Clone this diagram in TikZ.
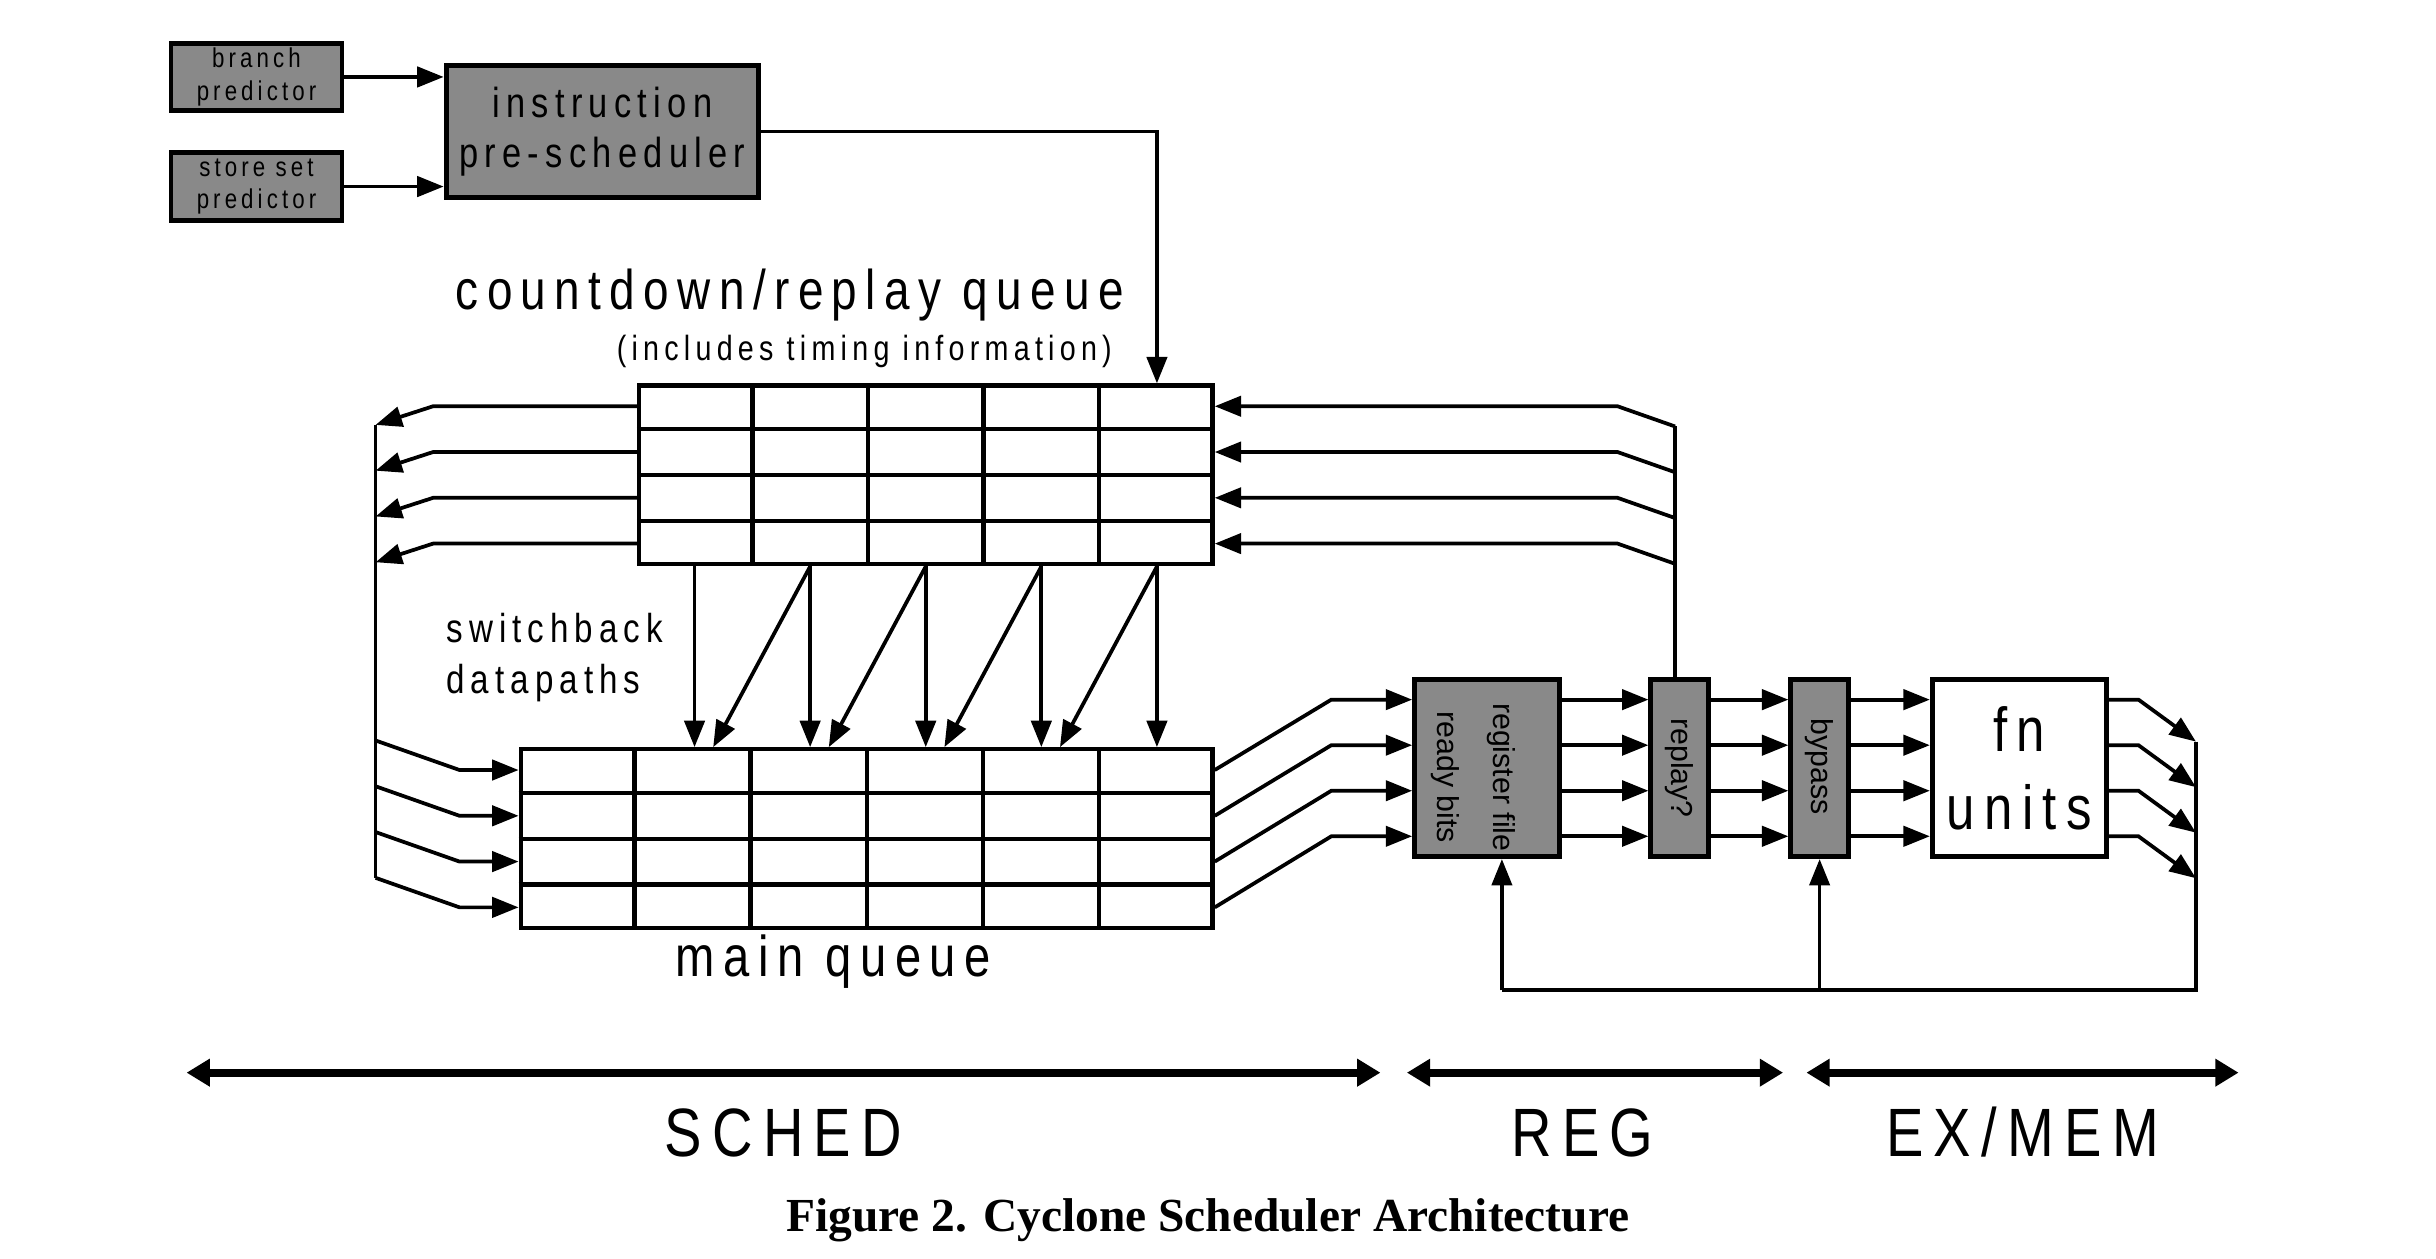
\documentclass[tikz,border=0pt]{standalone}
\usepackage{fontspec}
\setmainfont{Liberation Serif}
\newfontfamily\spaced[FakeStretch=0.82,LetterSpace=15]{Liberation Sans}
\newfontfamily\plain{Liberation Sans}
\definecolor{BlockFill}{RGB}{137,137,137}
\usetikzlibrary{calc, arrows.meta}

\begin{document}
\begin{tikzpicture}[x=1pt, y=-1pt,
    block/.style = {draw, line width=3.2pt, fill=BlockFill, inner sep=0pt, align=center},
    queue/.style = {draw, line width=2.8pt, inner sep=0pt},
    grid/.style = {line width=2.8pt},
    wire/.style = {line width=2.4pt},
    vtext/.style = {rotate=-90, inner sep=0pt, font=\plain\fontsize{19.5}{23}\selectfont},
    axis/.style = {line width=5pt, {Triangle[length=15pt, width=17pt]}-{Triangle[length=15pt, width=17pt]}},
    >={Triangle[length=17pt, width=13pt]}]

\useasboundingbox (0,0) rectangle (1567,809.25);

\node[block, minimum width=110pt, minimum height=43pt, font=\spaced\fontsize{17.5}{21}\selectfont] (BP) at (165,49.5) {branch\\predictor};
\node[block, minimum width=110pt, minimum height=44pt, font=\spaced\fontsize{17.5}{21}\selectfont] (SS) at (165,120) {store set\\predictor};
\node[block, minimum width=201pt, minimum height=85pt, font=\spaced\fontsize{27}{32}\selectfont] (PS) at (387.5,84.5) {instruction\\pre-scheduler};

\node[queue, minimum width=369pt, minimum height=115pt] (CQ) at (595.5,305.5) {};
\node[queue, minimum width=445pt, minimum height=115pt] (MQ) at (557.5,539.5) {};
\foreach \i in {1,...,4}
    \draw[grid] ($(CQ.north west)!{\i/5}!(CQ.north east)$) -- ($(CQ.south west)!{\i/5}!(CQ.south east)$);
\foreach \i in {1,...,5}
    \draw[grid] ($(MQ.north west)!{\i/6}!(MQ.north east)$) -- ($(MQ.south west)!{\i/6}!(MQ.south east)$);
\foreach \j in {1,2,3} {
    \draw[grid] ($(CQ.north west)!{\j/4}!(CQ.south west)$) -- ($(CQ.north east)!{\j/4}!(CQ.south east)$);
    \draw[grid] ($(MQ.north west)!{\j/4}!(MQ.south west)$) -- ($(MQ.north east)!{\j/4}!(MQ.south east)$);
}

\node[block, minimum width=93pt, minimum height=114pt] (RF) at (956.5,494) {};
\node[block, minimum width=37pt, minimum height=114pt] (RP) at (1080.5,494) {};
\node[block, minimum width=37pt, minimum height=114pt] (BY) at (1170.5,494) {};
\node[block, fill=white, minimum width=112pt, minimum height=114pt, font=\spaced\fontsize{40}{50}\selectfont] (FU) at (1299,494) {fn\\units};
\node[vtext] (RFa) at (966,500) {register file};
\node[vtext] (RFb) at (930,500) {ready bits};
\node[vtext] (RPt) at (1080,494) {replay?};
\node[vtext] (BYt) at (1170.5,493) {bypass};

\node[anchor=base, font=\spaced\fontsize{36}{40}\selectfont] (CQa) at (508,199) {countdown/replay queue};
\node[anchor=base, font=\spaced\fontsize{22.5}{26}\selectfont] (CQb) at (556,232) {(includes timing information)};
\node[anchor=base west, inner sep=0pt, font=\spaced\fontsize{26}{30}\selectfont] (SWa) at (287,413) {switchback};
\node[anchor=base west, inner sep=0pt, font=\spaced\fontsize{26}{30}\selectfont] (SWb) at (287,446) {datapaths};
\node[anchor=base, font=\spaced\fontsize{37}{40}\selectfont] (MQa) at (536,628) {main queue};

\foreach \k in {1,...,4} {
    \coordinate (CQW\k) at ($(CQ.north west)!{(\k-0.5)/4}!(CQ.south west)$);
    \coordinate (CQE\k) at ($(CQ.north east)!{(\k-0.5)/4}!(CQ.south east)$);
    \coordinate (MQW\k) at ($(MQ.north west)!{(\k-0.5)/4}!(MQ.south west)$);
    \coordinate (MQE\k) at ($(MQ.north east)!{(\k-0.5)/4}!(MQ.south east)$);
    \coordinate (RFW\k) at ($(RF.north west)!{(\k-0.5)/4}!(RF.south west)$);
    \coordinate (RB\k) at ($(RP.north |- CQE\k)+(-3,13)$);
}
\foreach \c in {1,...,5}
    \coordinate (CQS\c) at ($(CQ.south west)!{(\c-0.5)/5}!(CQ.south east)$);

\draw[wire, ->] (BP.east) -- (BP.east -| PS.west);
\draw[wire, ->] (SS.east) -- (SS.east -| PS.west);
\draw[wire, ->] (PS.east) -| ($(CQ.north west)!0.9!(CQ.north east)$);

\draw[wire] ($(CQW1)+(-168,12)$) -- ($(MQW4)+(-92,-19)$);
\draw[wire] ($(RP.north)+(-3,0)$) -- (RB1);
\foreach \k in {1,...,4} {
    \draw[wire, ->] (CQW\k) -- ++(-131,0) -- ++(-37,12);
    \draw[wire, ->] ($(MQW\k)+(-92,-19)$) -- ++(54,19) -- (MQW\k);
    \draw[wire, ->] (RB\k) -- ++(-37,-13) -- (CQE\k);
    \draw[wire, ->] (MQE\k) -- ($(RFW\k)+(-52,0)$) -- (RFW\k);
    \draw[wire, ->] (RF.east |- RFW\k) -- (RFW\k -| RP.west);
    \draw[wire, ->] (RP.east |- RFW\k) -- (RFW\k -| BY.west);
    \draw[wire, ->] (BY.east |- RFW\k) -- (RFW\k -| FU.west);
    \draw[wire, ->] (FU.east |- RFW\k) -- ++(19,0) -- ++(37,27);
}
\foreach \c in {1,...,5}
    \draw[wire, ->] (CQS\c) -- (CQS\c |- MQ.north);
\foreach \c in {1,...,4} {
    \pgfmathtruncatemacro\n{\c+1}
    \draw[wire, ->] (CQS\n) -- ($(CQS\c |- MQ.north)+(12,0)$);
}

\coordinate (LoopT) at ($(FU.east |- RFW1)+(56,27)$);
\coordinate (LoopR) at (LoopT |- 0,637);
\coordinate (RFin) at ($(RF.south west)!0.6!(RF.south east)$);
\draw[wire] (LoopT) -- (LoopR) -- (RFin |- LoopR);
\draw[wire, ->] (RFin |- LoopR) -- (RFin);
\draw[wire, ->] (BY.south |- LoopR) -- (BY.south);

\coordinate (S1) at (120,690);
\coordinate (S2) at (888,690);
\coordinate (R1) at (905,690);
\coordinate (R2) at (1147,690);
\coordinate (E1) at (1162,690);
\coordinate (E2) at (1440,690);
\draw[axis] (S1) -- node[midway, anchor=base, yshift=-54pt, font=\spaced\fontsize{44}{50}\selectfont] (SCHED) {SCHED} (S2);
\draw[axis] (R1) -- node[midway, anchor=base, yshift=-54pt, xshift=-8pt, font=\spaced\fontsize{44}{50}\selectfont] (REG) {REG} (R2);
\draw[axis] (E1) -- node[midway, anchor=base, yshift=-54pt, font=\spaced\fontsize{44}{50}\selectfont] (EXMEM) {EX/MEM} (E2);

\node[anchor=base, font=\bfseries\fontsize{30.5}{36}\selectfont] (Caption) at (777,792) {Figure 2. Cyclone Scheduler Architecture};

\end{tikzpicture}
\end{document}
